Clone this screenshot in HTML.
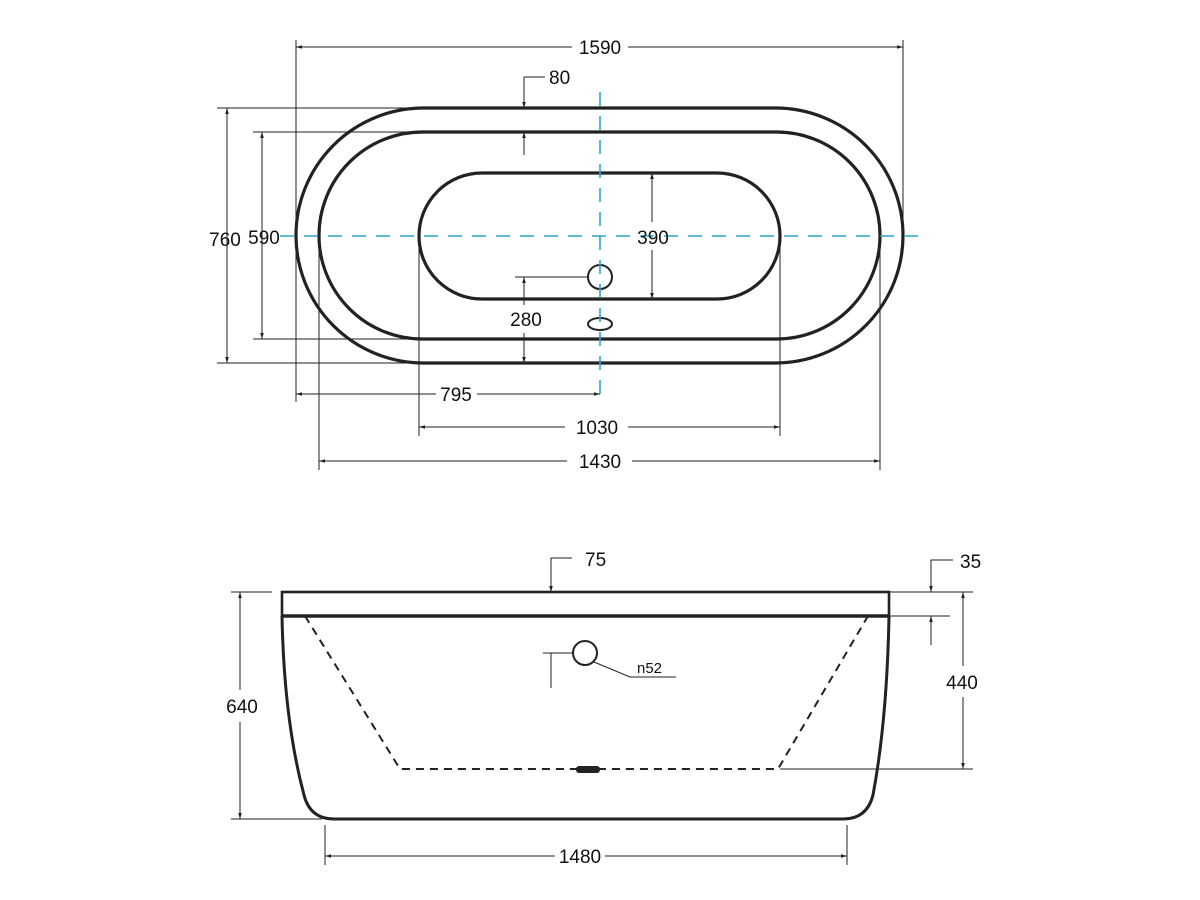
<!DOCTYPE html><html><head><style>body{margin:0;background:#fff}svg{display:block}text{font-family:"Liberation Sans",sans-serif;font-size:19px;fill:#111}</style></head><body>
<svg width="1200" height="900" viewBox="0 0 1200 900">
<defs><marker id="a" viewBox="0 0 10 10" refX="10" refY="5" markerWidth="6" markerHeight="6" orient="auto-start-reverse"><path d="M0,2L10,5L0,8z" fill="#222"/></marker></defs>
<g fill="none" stroke="#222" stroke-width="3.2">
<rect x="296" y="108" width="607" height="255" rx="127.5"/>
<rect x="319" y="132" width="561" height="207" rx="103.5"/>
<rect x="419" y="173" width="361" height="126" rx="63"/>
<circle cx="600" cy="277" r="12" stroke-width="2"/>
<ellipse cx="600" cy="324" rx="12" ry="6" stroke-width="2"/>
</g>
<g stroke="#29a6c9" stroke-width="1.6" stroke-dasharray="14,10" fill="none">
<line x1="280" y1="236" x2="922" y2="236"/><line x1="600" y1="92" x2="600" y2="400"/></g>
<g stroke="#222" stroke-width="1" fill="none">
<line x1="296" y1="40" x2="296" y2="402"/><line x1="903" y1="40" x2="903" y2="240"/>
<line x1="296" y1="47" x2="572" y2="47" marker-start="url(#a)"/><line x1="628" y1="47" x2="903" y2="47" marker-end="url(#a)"/>
<polyline points="545,77 524,77 524,108" marker-end="url(#a)"/><line x1="524" y1="155" x2="524" y2="132" marker-end="url(#a)"/>
<line x1="217" y1="108" x2="420" y2="108"/><line x1="217" y1="363" x2="420" y2="363"/>
<line x1="227" y1="108" x2="227" y2="363" marker-start="url(#a)" marker-end="url(#a)"/>
<line x1="253" y1="132" x2="420" y2="132"/><line x1="253" y1="339" x2="420" y2="339"/>
<line x1="262" y1="132" x2="262" y2="339" marker-start="url(#a)" marker-end="url(#a)"/>
<line x1="652" y1="173" x2="652" y2="222" marker-start="url(#a)"/><line x1="652" y1="250" x2="652" y2="299" marker-end="url(#a)"/>
<line x1="515" y1="277" x2="588" y2="277"/>
<line x1="524" y1="277" x2="524" y2="305" marker-start="url(#a)"/><line x1="524" y1="333" x2="524" y2="363" marker-end="url(#a)"/>
<line x1="296" y1="394" x2="436" y2="394" marker-start="url(#a)"/><line x1="477" y1="394" x2="600" y2="394" marker-end="url(#a)"/>
<line x1="419" y1="236" x2="419" y2="436"/><line x1="780" y1="236" x2="780" y2="436"/>
<line x1="419" y1="427" x2="565" y2="427" marker-start="url(#a)"/><line x1="628" y1="427" x2="780" y2="427" marker-end="url(#a)"/>
<line x1="319" y1="236" x2="319" y2="470"/><line x1="880" y1="236" x2="880" y2="470"/>
<line x1="319" y1="461" x2="567" y2="461" marker-start="url(#a)"/><line x1="632" y1="461" x2="880" y2="461" marker-end="url(#a)"/>
</g>
<text x="600" y="54" text-anchor="middle">1590</text>
<text x="549" y="84">80</text>
<text x="225" y="246" text-anchor="middle">760</text>
<text x="264" y="244" text-anchor="middle">590</text>
<text x="653" y="244" text-anchor="middle">390</text>
<text x="526" y="326" text-anchor="middle">280</text>
<text x="456" y="401" text-anchor="middle">795</text>
<text x="597" y="434" text-anchor="middle">1030</text>
<text x="600" y="468" text-anchor="middle">1430</text>
<!-- side -->
<g fill="none" stroke="#222" stroke-width="3">
<rect x="282" y="592" width="607" height="24" stroke-width="2.6"/>
<path d="M282,616 Q284,720 304,795 Q310,819 334,819 L843,819 Q867,819 873,795 Q887,720 889,616"/>
<circle cx="585" cy="653" r="12" stroke-width="2"/>
</g>
<line x1="282" y1="616" x2="889" y2="616" stroke="#222" stroke-width="3.4"/>
<path d="M305,616 L400,769 L778,769 L868,616" fill="none" stroke="#222" stroke-width="2" stroke-dasharray="8,6"/>
<rect x="576" y="766" width="24" height="7" rx="3" fill="#222"/>
<g stroke="#222" stroke-width="1" fill="none">
<polyline points="676,677 630,677 594,662"/>
<line x1="543" y1="653" x2="573" y2="653"/><line x1="551" y1="653" x2="551" y2="688"/>
<polyline points="572,558 551,558 551,592" marker-end="url(#a)"/>
<polyline points="953,560 931,560 931,592" marker-end="url(#a)"/><line x1="931" y1="645" x2="931" y2="616" marker-end="url(#a)"/>
<line x1="889" y1="592" x2="973" y2="592"/><line x1="889" y1="616" x2="950" y2="616"/>
<line x1="963" y1="592" x2="963" y2="666" marker-start="url(#a)"/><line x1="963" y1="697" x2="963" y2="769" marker-end="url(#a)"/>
<line x1="780" y1="769" x2="973" y2="769"/>
<line x1="231" y1="592" x2="272" y2="592"/><line x1="231" y1="819" x2="322" y2="819"/>
<line x1="240" y1="592" x2="240" y2="690" marker-start="url(#a)"/><line x1="240" y1="722" x2="240" y2="819" marker-end="url(#a)"/>
<line x1="325" y1="825" x2="325" y2="865"/><line x1="847" y1="825" x2="847" y2="865"/>
<line x1="325" y1="856" x2="555" y2="856" marker-start="url(#a)"/><line x1="605" y1="856" x2="847" y2="856" marker-end="url(#a)"/>
</g>
<text x="637" y="673" style="font-size:15px">n52</text>
<text x="585" y="566">75</text>
<text x="960" y="568">35</text>
<text x="962" y="689" text-anchor="middle">440</text>
<text x="242" y="713" text-anchor="middle">640</text>
<text x="580" y="863" text-anchor="middle">1480</text>
</svg></body></html>
